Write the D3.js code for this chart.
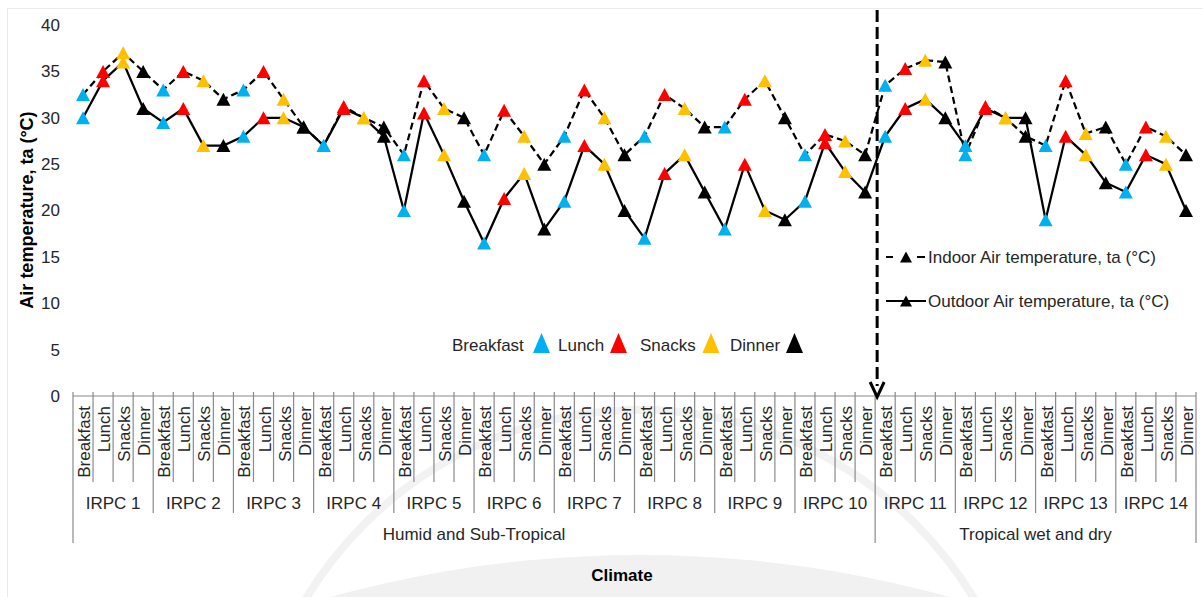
<!DOCTYPE html>
<html>
<head>
<meta charset="utf-8">
<script src="https://cdn.jsdelivr.net/npm/d3@7"></script>
<style>
  html, body { margin: 0; padding: 0; background: #ffffff; }
  svg { display: block; font-family: "Liberation Sans", Arial, sans-serif; }
</style>
</head>
<body>
<svg id="chart" width="1203" height="597"></svg>
<script>
// Meals recorded at every IRPC site
const meals = ["Breakfast", "Lunch", "Snacks", "Dinner"];
const mealColors = ["#00B0F0", "#FF0000", "#FFC000", "#000000"];

// Sites and the climate zones they belong to
const sites = ["IRPC 1", "IRPC 2", "IRPC 3", "IRPC 4", "IRPC 5", "IRPC 6", "IRPC 7",
               "IRPC 8", "IRPC 9", "IRPC 10", "IRPC 11", "IRPC 12", "IRPC 13", "IRPC 14"];
const climateNames = ["Humid and Sub-Tropical", "Tropical wet and dry"];
const climateSiteCounts = [10, 4];

// Air temperature, ta (°C), per site and meal (Breakfast, Lunch, Snacks, Dinner)
const indoorTemp = [
  32.5, 35, 37, 35,
  33, 35, 34, 32,
  33, 35, 32, 29,
  27, 31.2, 30, 29,
  26, 34, 31, 30,
  26, 30.8, 28, 25,
  28, 33, 30, 26,
  28, 32.5, 31, 29,
  29, 32, 34, 30,
  26, 28.2, 27.5, 26,
  33.5, 35.3, 36.2, 36,
  26, 31.2, 30, 28,
  27, 34, 28.3, 29,
  25, 29, 28, 26
];
const outdoorTemp = [
  30, 34, 36, 31,
  29.5, 31, 27, 27,
  28, 30, 30, 29,
  27, 31, 30, 28,
  20, 30.5, 26, 21,
  16.5, 21.3, 24, 18,
  21, 27, 25, 20,
  17, 24, 26, 22,
  18, 25, 20, 19,
  21, 27.3, 24.2, 22,
  28, 31, 32, 30,
  27, 31, 30, 30,
  19, 28, 26, 23,
  22, 26, 25, 20
];
const yTicks = [0, 5, 10, 15, 20, 25, 30, 35, 40];
const seriesNames = ["Indoor Air temperature, ta (°C)", "Outdoor Air temperature, ta (°C)"];

const svg = d3.select("#chart");
const plotLeft = 73, plotRight = 1196, plotTop = 25, plotBottom = 396;

const nCat = sites.length * meals.length;
const x = d3.scaleBand().domain(d3.range(nCat)).range([plotLeft, plotRight]).padding(0);
const bw = x.bandwidth();
const y = d3.scaleLinear().domain([0, 40]).range([plotBottom, plotTop]);
const cx = i => x(i) + bw / 2;

// faint emblem in the background
const wm = svg.append("g");
wm.append("circle").attr("cx", 640).attr("cy", 1720).attr("r", 1165).attr("fill", "#f1f1f1");
wm.append("circle").attr("cx", 640).attr("cy", 800).attr("r", 390)
  .attr("fill", "none").attr("stroke", "#f2f2f2").attr("stroke-width", 8);

// outer chart frame
svg.append("rect").attr("x", 7.5).attr("y", 8.5).attr("width", 1400).attr("height", 800)
  .attr("fill", "none").attr("stroke", "#ebebeb");

// y axis: labels only
const yAxis = svg.append("g").attr("transform", `translate(${plotLeft - 13},0)`)
  .call(d3.axisLeft(y).tickValues(yTicks).tickSize(0).tickPadding(0));
yAxis.select(".domain").remove();
yAxis.selectAll("text").attr("font-size", 17).attr("fill", "#262626")
  .attr("font-family", "Liberation Sans, Arial, sans-serif");

svg.append("text")
  .attr("transform", `translate(33,210) rotate(-90)`)
  .attr("text-anchor", "middle").attr("font-size", 18).attr("font-weight", "bold")
  .attr("fill", "#000").text("Air temperature, ta (°C)");

// x axis: multi-level category axis
const axisG = svg.append("g").attr("stroke", "#8a8a8a").attr("stroke-width", 1.2);
axisG.append("line").attr("x1", plotLeft).attr("x2", plotRight).attr("y1", plotBottom).attr("y2", plotBottom);

const climateStarts = [0];
climateSiteCounts.forEach((c, k) => climateStarts.push(climateStarts[k] + c));

for (let b = 0; b <= nCat; b++) {
  const xb = b < nCat ? x(b) : plotRight;
  let y2 = 482;
  if (b % meals.length === 0) y2 = 513;
  if (b % meals.length === 0 && climateStarts.includes(b / meals.length)) y2 = 543;
  axisG.append("line").attr("x1", xb).attr("x2", xb).attr("y1", plotBottom - 4).attr("y2", y2);
}

const catLabels = svg.append("g").attr("font-size", 17).attr("fill", "#262626");
d3.range(nCat).forEach(i => {
  catLabels.append("text")
    .attr("transform", `translate(${cx(i) + 7},406) rotate(-90)`)
    .attr("text-anchor", "end").text(meals[i % meals.length]);
});

sites.forEach((s, k) => {
  const x0 = x(k * meals.length);
  const x1 = k * meals.length + meals.length < nCat ? x(k * meals.length + meals.length) : plotRight;
  svg.append("text").attr("x", (x0 + x1) / 2).attr("y", 509)
    .attr("text-anchor", "middle").attr("font-size", 17).attr("fill", "#262626").text(s);
});

climateNames.forEach((c, k) => {
  const s0 = climateStarts[k] * meals.length, s1 = climateStarts[k + 1] * meals.length;
  const x0 = x(s0), x1 = s1 < nCat ? x(s1) : plotRight;
  svg.append("text").attr("x", (x0 + x1) / 2).attr("y", 540)
    .attr("text-anchor", "middle").attr("font-size", 17).attr("fill", "#262626").text(c);
});

svg.append("text").attr("x", 622).attr("y", 581).attr("text-anchor", "middle")
  .attr("font-size", 17).attr("font-weight", "bold").attr("fill", "#000").text("Climate");

// series lines
const line = d3.line().x((d, i) => cx(i)).y(d => y(d));
svg.append("path").datum(indoorTemp).attr("d", line)
  .attr("fill", "none").attr("stroke", "#000").attr("stroke-width", 2.25)
  .attr("stroke-dasharray", "7,4");
svg.append("path").datum(outdoorTemp).attr("d", line)
  .attr("fill", "none").attr("stroke", "#000").attr("stroke-width", 2.25);

// triangle marker centred on its bounding box
const tri = (w, h) => `M0,${-h / 2}L${w / 2},${h / 2}L${-w / 2},${h / 2}Z`;

[indoorTemp, outdoorTemp].forEach(series => {
  svg.append("g").selectAll("path").data(series).join("path")
    .attr("d", tri(14, 13))
    .attr("transform", (d, i) => `translate(${cx(i)},${y(d)})`)
    .attr("fill", (d, i) => mealColors[i % meals.length]);
});

// climate boundary arrow
const bx = x(climateSiteCounts[0] * meals.length) + 2;
svg.append("line").attr("x1", bx).attr("x2", bx).attr("y1", 10).attr("y2", plotBottom - 10)
  .attr("stroke", "#000").attr("stroke-width", 3).attr("stroke-dasharray", "12,5");
svg.append("path").attr("d", `M${bx - 7},${plotBottom - 14}L${bx},${plotBottom + 1}L${bx + 7},${plotBottom - 14}`)
  .attr("fill", "none").attr("stroke", "#000").attr("stroke-width", 3);

// meal colour legend
const leg = svg.append("g").attr("font-size", 17).attr("fill", "#262626");
const legItems = [
  { tx: 452, mx: 541.5 },
  { tx: 558, mx: 618.5 },
  { tx: 640, mx: 711 },
  { tx: 730, mx: 794.5 }
];
meals.forEach((m, k) => {
  leg.append("text").attr("x", legItems[k].tx).attr("y", 351).text(m);
  leg.append("path").attr("d", tri(17, 20))
    .attr("transform", `translate(${legItems[k].mx},343)`).attr("fill", mealColors[k]);
});

// series legend
const sl = svg.append("g");
[257, 301].forEach((ly, k) => {
  if (k === 0) {
    sl.append("line").attr("x1", 886).attr("x2", 893).attr("y1", ly).attr("y2", ly)
      .attr("stroke", "#000").attr("stroke-width", 2);
    sl.append("line").attr("x1", 917).attr("x2", 925).attr("y1", ly).attr("y2", ly)
      .attr("stroke", "#000").attr("stroke-width", 2);
  } else {
    sl.append("line").attr("x1", 886).attr("x2", 926).attr("y1", ly).attr("y2", ly)
      .attr("stroke", "#000").attr("stroke-width", 2);
  }
  sl.append("path").attr("d", tri(12, 11)).attr("transform", `translate(906,${ly})`).attr("fill", "#000");
  sl.append("text").attr("x", 928).attr("y", ly + 6).attr("font-size", 17).attr("fill", "#262626")
    .text(seriesNames[k]);
});
</script>
</body>
</html>
